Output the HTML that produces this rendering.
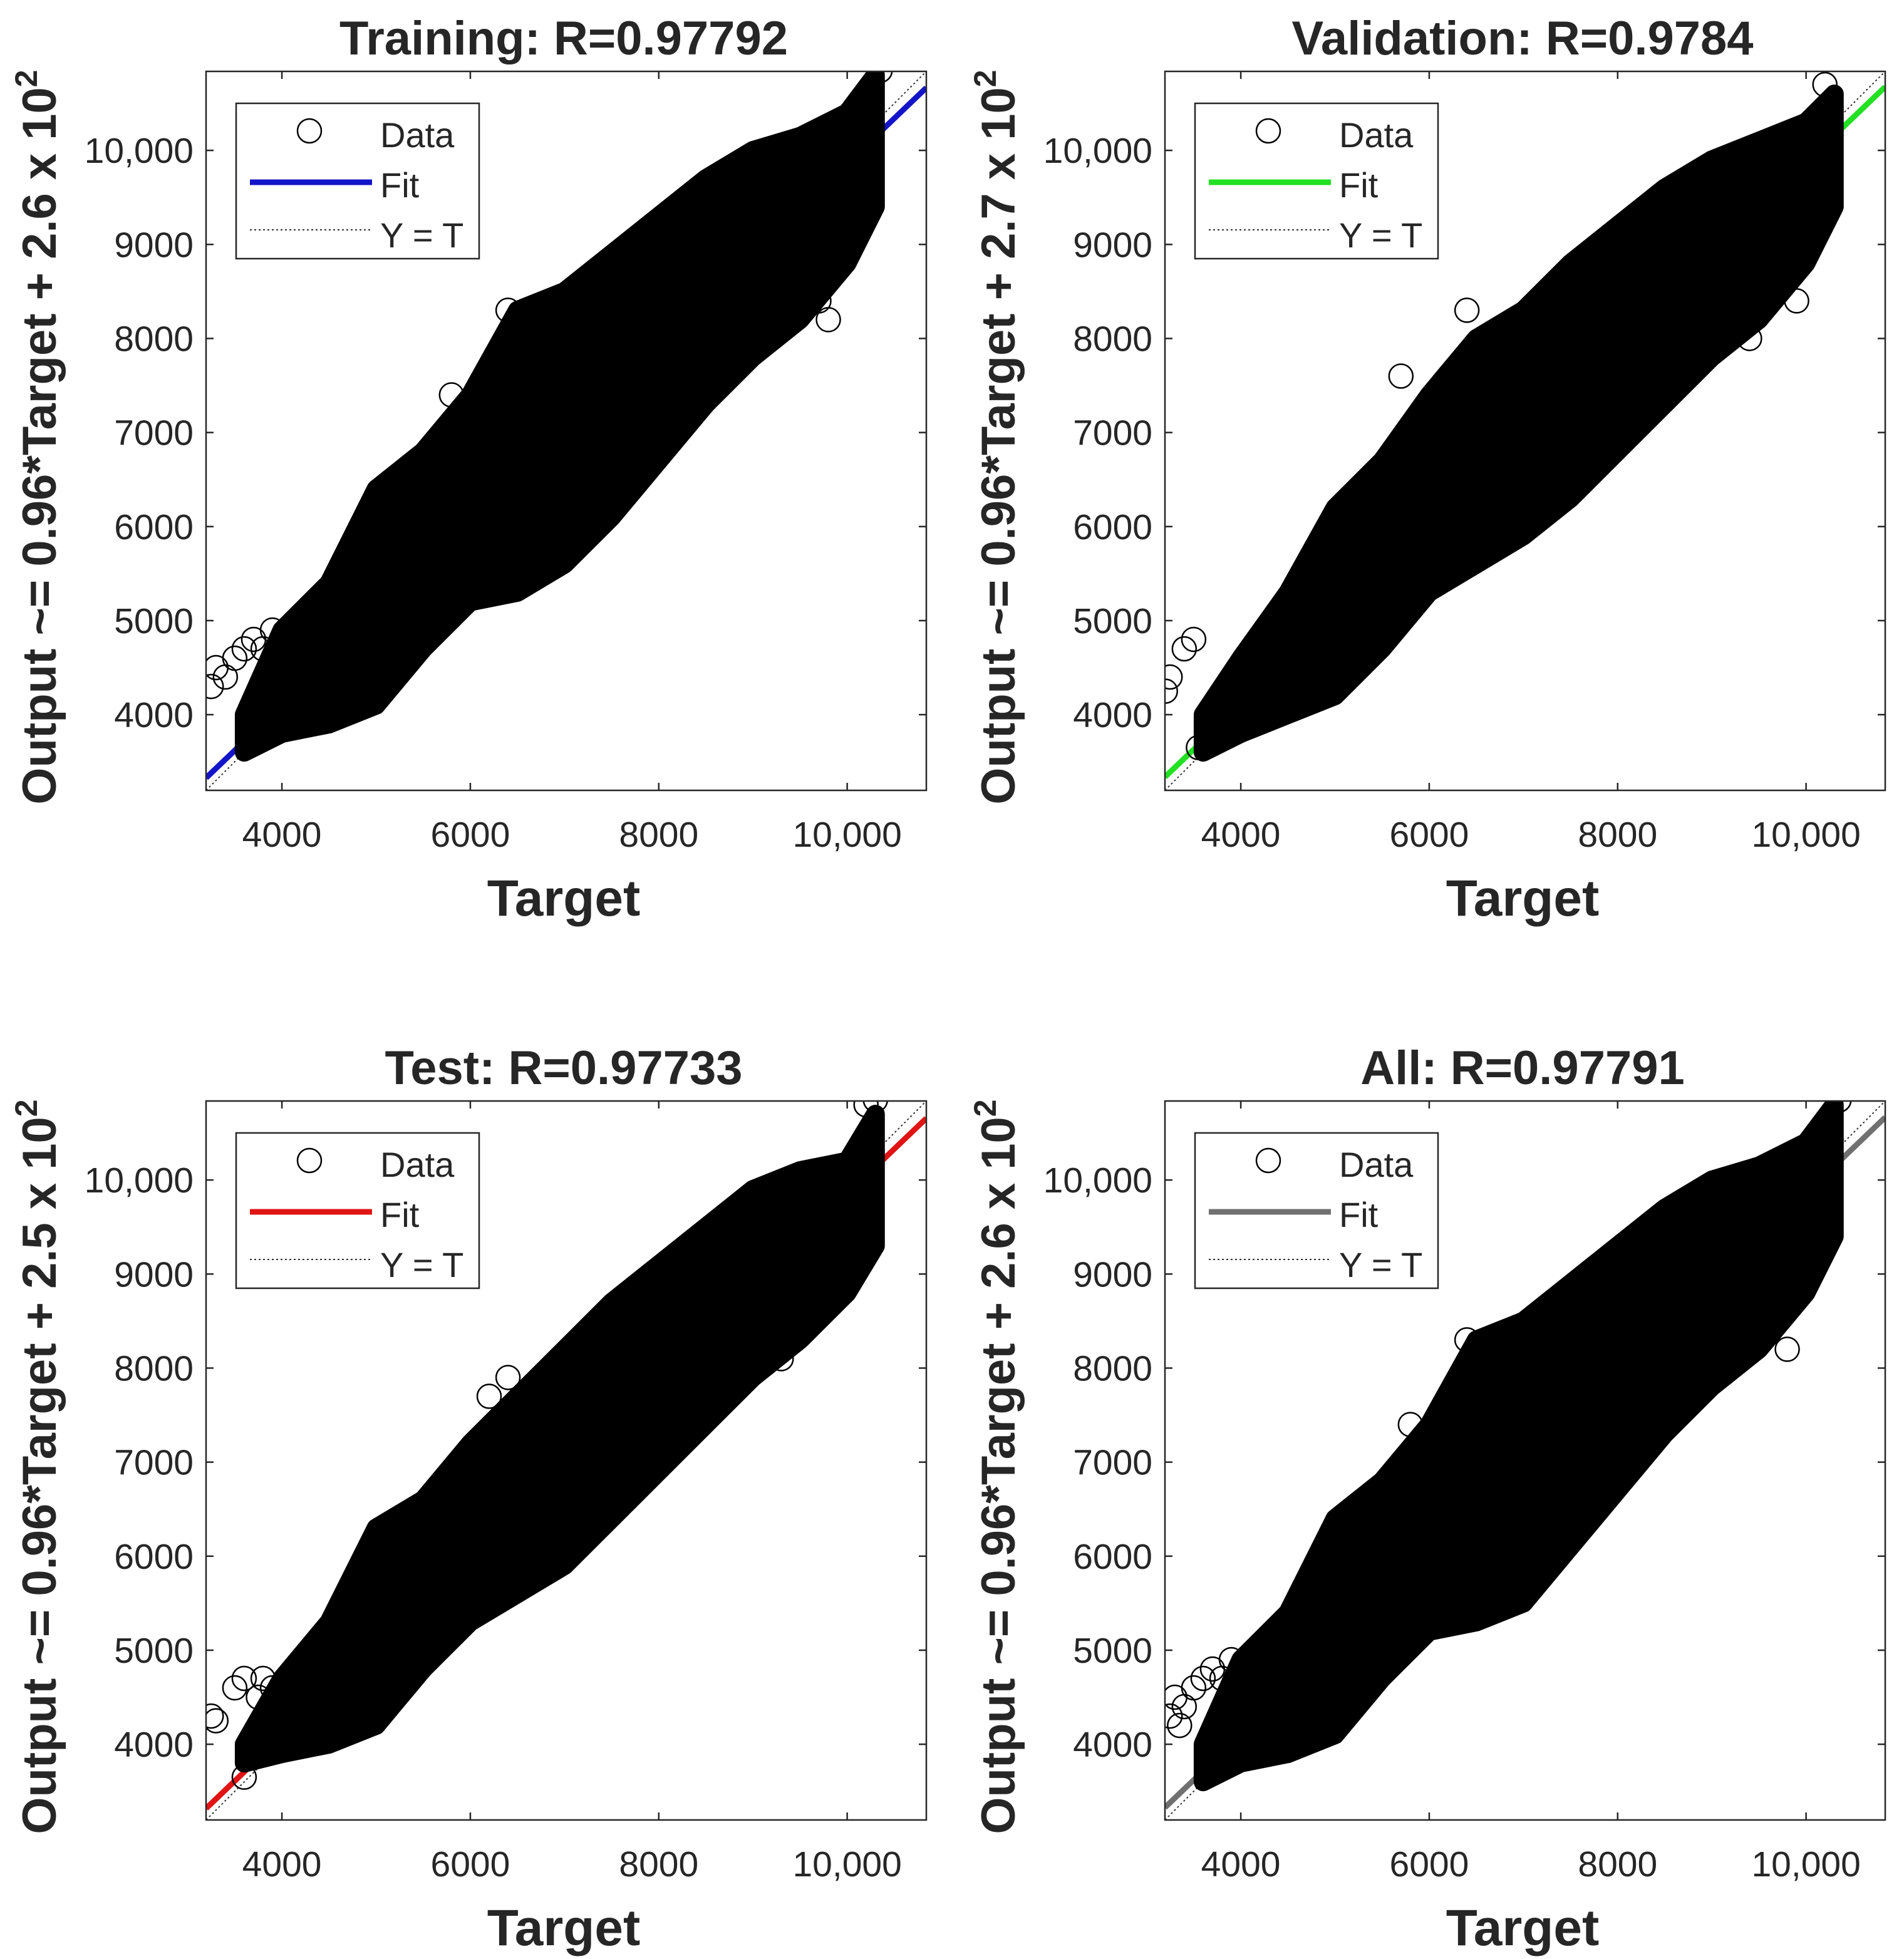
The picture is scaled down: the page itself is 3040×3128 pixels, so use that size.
<!DOCTYPE html>
<html><head><meta charset="utf-8"><style>
html,body{margin:0;padding:0;background:#fff}
svg{display:block}
text{font-family:"Liberation Sans",Arial,sans-serif;fill:#262626}
</style></head><body>
<svg id="chart" width="3040" height="3128" viewBox="0 0 3040 3128" xmlns="http://www.w3.org/2000/svg"></svg>
<script>
// ---- data ----
const tickValues = [4000, 6000, 8000, 10000];
const tickLabels = ["4000", "6000", "8000", "10,000"];
const yTickValues = [4000, 5000, 6000, 7000, 8000, 9000, 10000];
const yTickLabels = ["4000", "5000", "6000", "7000", "8000", "9000", "10,000"];
const panelTitles = ["Training: R=0.97792", "Validation: R=0.9784", "Test: R=0.97733", "All: R=0.97791"];
const fitSlopes = [0.96, 0.96, 0.96, 0.96];
const fitIntercepts = [260, 270, 250, 260];
const yLabelOffsets = ["2.6", "2.7", "2.5", "2.6"];
const fitColors = ["#1414c8", "#22e022", "#e01414", "#707070"];
// envelope of the dense point cloud (target values and upper/lower output)
const envTarget = [3600, 4000, 4500, 5000, 5500, 6000, 6500, 7000, 7500, 8000, 8500, 9000, 9500, 10000, 10300];
const envUpperTrain = [4000, 4900, 5400, 6400, 6800, 7400, 8300, 8500, 8900, 9300, 9700, 10000, 10150, 10400, 10800];
const envLowerTrain = [3600, 3800, 3900, 4100, 4700, 5200, 5300, 5600, 6100, 6700, 7300, 7800, 8200, 8800, 9400];
const envUpperVal = [4000, 4600, 5300, 6200, 6700, 7400, 8000, 8300, 8800, 9200, 9600, 9900, 10100, 10300, 10600];
const envLowerVal = [3600, 3800, 4000, 4200, 4700, 5300, 5600, 5900, 6300, 6800, 7300, 7800, 8200, 8800, 9400];
const envUpperTest = [4000, 4700, 5300, 6300, 6600, 7200, 7700, 8200, 8700, 9100, 9500, 9900, 10100, 10200, 10700];
const envLowerTest = [3800, 3900, 4000, 4200, 4800, 5300, 5600, 5900, 6400, 6900, 7400, 7900, 8300, 8800, 9300];
const envUpperAll = [4000, 4900, 5400, 6400, 6800, 7400, 8300, 8500, 8900, 9300, 9700, 10000, 10150, 10400, 10800];
const envLowerAll = [3600, 3800, 3900, 4100, 4700, 5200, 5300, 5500, 6100, 6700, 7300, 7800, 8200, 8800, 9400];
// sparse outliers (target, output)
const outTrainT = [3250, 3300, 3400, 3500, 3600, 3700, 3800, 3900, 6400, 6500, 5800, 9800, 9700, 10350];
const outTrainY = [4300, 4500, 4400, 4600, 4700, 4800, 4700, 4900, 8300, 8200, 7400, 8200, 8400, 10850];
const outValT = [3200, 3250, 3400, 3500, 3550, 3800, 6400, 5700, 9900, 10200, 10250, 9400];
const outValY = [4250, 4400, 4700, 4800, 3650, 4200, 8300, 7600, 8400, 10700, 10450, 8000];
const outTestT = [3250, 3300, 3500, 3600, 3750, 3800, 3900, 3600, 6200, 6400, 10200, 10300, 9300, 9500];
const outTestY = [4300, 4250, 4600, 4700, 4500, 4700, 4600, 3650, 7700, 7900, 10800, 10850, 8100, 8500];
const outAllT = [3250, 3300, 3400, 3500, 3600, 3700, 3800, 3900, 3350, 6400, 6500, 5800, 9800, 10350];
const outAllY = [4300, 4500, 4400, 4600, 4700, 4800, 4700, 4900, 4200, 8300, 8200, 7400, 8200, 10850];

const envUppers = [envUpperTrain, envUpperVal, envUpperTest, envUpperAll];
const envLowers = [envLowerTrain, envLowerVal, envLowerTest, envLowerAll];
const outTs = [outTrainT, outValT, outTestT, outAllT];
const outYs = [outTrainY, outValY, outTestY, outAllY];

const NS = "http://www.w3.org/2000/svg";
const svg = document.getElementById("chart");
const DMIN = 3195, DMAX = 10840;
function mk(tag, attrs, parent) {
  const e = document.createElementNS(NS, tag);
  for (const k in attrs) e.setAttribute(k, attrs[k]);
  parent.appendChild(e);
  return e;
}
const names = ["training", "validation", "test", "all"];
const origins = [[329, 114], [1860, 114], [329, 1758], [1860, 1758]];
const W = 1150, H = 1148;

origins.forEach((o, p) => {
  const [x0, y0] = o;
  const sx = v => x0 + (v - DMIN) / (DMAX - DMIN) * W;
  const sy = v => y0 + H - (v - DMIN) / (DMAX - DMIN) * H;
  const g = mk("g", {}, svg);
  
  
  const clipId = "clip" + p;
  const cp = mk("clipPath", {id: clipId}, g);
  mk("rect", {x: x0, y: y0, width: W, height: H}, cp);
  const plot = mk("g", {"clip-path": "url(#" + clipId + ")"}, g);

  // fit
  const m = fitSlopes[p], b = fitIntercepts[p];
  const fl = mk("line", {x1: sx(DMIN), y1: sy(m * DMIN + b), x2: sx(DMAX), y2: sy(m * DMAX + b), stroke: fitColors[p], "stroke-width": 9}, plot);
  
  
  // Y = T
  const yt = mk("line", {x1: sx(DMIN), y1: sy(DMIN), x2: sx(DMAX), y2: sy(DMAX), stroke: "#333", "stroke-width": 2, "stroke-dasharray": "3,4"}, plot);
  
  

  // point cloud
  const up = envUppers[p], lo = envLowers[p];
  let pts = [];
  for (let i = 0; i < envTarget.length; i++) pts.push(sx(envTarget[i]) + "," + sy(up[i]));
  for (let i = envTarget.length - 1; i >= 0; i--) pts.push(sx(envTarget[i]) + "," + sy(lo[i]));
  const cloud = mk("polygon", {points: pts.join(" "), fill: "#000", stroke: "#000", "stroke-width": 30, "stroke-linejoin": "round"}, plot);
  
  
  for (let i = 0; i < outTs[p].length; i++) {
    const c = mk("circle", {cx: sx(outTs[p][i]), cy: sy(outYs[p][i]), r: 19, fill: "none", stroke: "#000", "stroke-width": 2.5}, plot);
    
    
  }

  // axes box
  const box = mk("rect", {x: x0, y: y0, width: W, height: H, fill: "none", stroke: "#262626", "stroke-width": 2.5}, g);
  
  
  tickValues.forEach((v, i) => {
    const x = sx(v);
    mk("line", {x1: x, y1: y0 + H, x2: x, y2: y0 + H - 12, stroke: "#262626", "stroke-width": 2.5}, g);
    mk("line", {x1: x, y1: y0, x2: x, y2: y0 + 12, stroke: "#262626", "stroke-width": 2.5}, g);
    const t = mk("text", {x: x, y: y0 + H + 90, "font-size": 57, "text-anchor": "middle"}, g);
    t.textContent = tickLabels[i];
    
    
  });
  yTickValues.forEach((v, i) => {
    const y = sy(v);
    mk("line", {x1: x0, y1: y, x2: x0 + 12, y2: y, stroke: "#262626", "stroke-width": 2.5}, g);
    mk("line", {x1: x0 + W, y1: y, x2: x0 + W - 12, y2: y, stroke: "#262626", "stroke-width": 2.5}, g);
    const t = mk("text", {x: x0 - 20, y: y + 20, "font-size": 57, "text-anchor": "end"}, g);
    t.textContent = yTickLabels[i];
    
    
  });
  const title = mk("text", {x: x0 + W / 2 - 4, y: y0 - 27, "font-size": 76, "font-weight": "bold", "text-anchor": "middle", fill: "#000"}, g);
  title.textContent = panelTitles[p];
  
  
  const xt = mk("text", {x: x0 + W / 2 - 4, y: y0 + H + 200, "font-size": 82, "font-weight": "bold", "text-anchor": "middle"}, g);
  xt.textContent = "Target";
  
  
  const cx = x0 - 240, cy = y0 + H / 2 + 10;
  const yl = mk("text", {x: cx, y: cy, "font-size": 76, "font-weight": "bold", "text-anchor": "middle", transform: "rotate(-90 " + cx + " " + cy + ")"}, g);
  
  
  yl.textContent = "Output ~= 0.96*Target + " + yLabelOffsets[p] + " x 10";
  const sup = mk("tspan", {dy: -30, "font-size": 50}, yl);
  sup.textContent = "2";

  // legend
  const lx = x0 + 48, ly = y0 + 51;
  const lg = mk("g", {}, g);
  
  
  mk("rect", {x: lx, y: ly, width: 388, height: 248, fill: "#fff", stroke: "#262626", "stroke-width": 2.5}, lg);
  mk("circle", {cx: lx + 117, cy: ly + 44, r: 19, fill: "none", stroke: "#000", "stroke-width": 2.5}, lg);
  mk("line", {x1: lx + 22, y1: ly + 126, x2: lx + 217, y2: ly + 126, stroke: fitColors[p], "stroke-width": 9}, lg);
  mk("line", {x1: lx + 22, y1: ly + 202, x2: lx + 217, y2: ly + 202, stroke: "#333", "stroke-width": 2, "stroke-dasharray": "3,4"}, lg);
  [["Data", 70], ["Fit", 150], ["Y = T", 230]].forEach(([s, dy]) => {
    const t = mk("text", {x: lx + 230, y: ly + dy, "font-size": 56}, lg);
    t.textContent = s;
    
    
  });
});
</script>
</body></html>
